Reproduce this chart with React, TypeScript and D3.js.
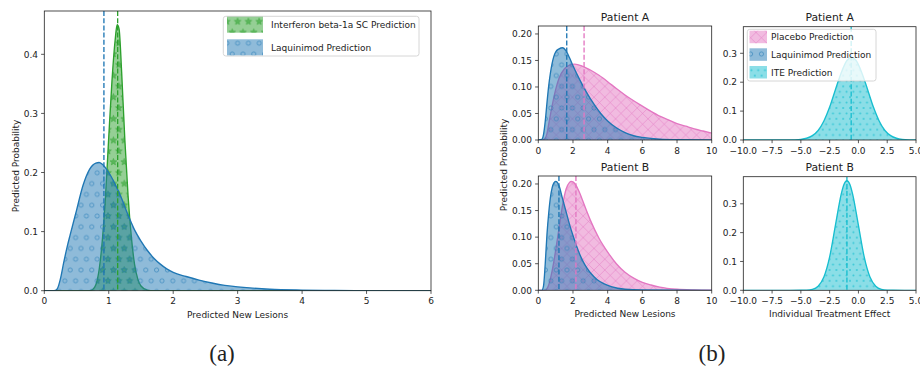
import React from 'react';
import * as d3 from 'd3';

// ---------- (a) data ----------
const aIfnX = [0, 0.7, 0.75, 0.8, 0.85, 0.9, 0.95, 1.0, 1.05, 1.1, 1.13, 1.16, 1.2, 1.25, 1.3, 1.35, 1.4, 1.45, 1.5, 1.6, 1.7, 6];
const aIfnY = [0, 0, 0.002, 0.01, 0.035, 0.085, 0.16, 0.26, 0.355, 0.425, 0.45, 0.443, 0.37, 0.255, 0.16, 0.092, 0.045, 0.02, 0.008, 0.001, 0, 0];
const aLaqX = [0, 0.15, 0.2, 0.25, 0.3, 0.35, 0.4, 0.45, 0.5, 0.6, 0.7, 0.8, 0.85, 0.9, 1.0, 1.1, 1.2, 1.3, 1.4, 1.5, 1.6, 1.7, 1.8, 1.9, 2.0, 2.2, 2.4, 2.6, 2.8, 3.0, 3.5, 4.0, 4.5, 5.0, 6.0];
const aLaqY = [0, 0, 0.003, 0.02, 0.047, 0.072, 0.094, 0.115, 0.136, 0.178, 0.205, 0.216, 0.217, 0.214, 0.2, 0.18, 0.156, 0.128, 0.103, 0.084, 0.068, 0.055, 0.045, 0.037, 0.031, 0.024, 0.018, 0.013, 0.009, 0.0065, 0.0025, 0.001, 0.0003, 0, 0];
const aMeans = { laq: 0.925, ifn: 1.138 };
const aXTicks = [0, 1, 2, 3, 4, 5, 6];
const aYTicks = [0, 0.1, 0.2, 0.3, 0.4];

// ---------- (b) data ----------
const paLaqX = [0, 0.2, 0.3, 0.4, 0.5, 0.6, 0.8, 1.0, 1.2, 1.4, 1.6, 1.8, 2.0, 2.4, 2.8, 3.2, 3.6, 4.0, 4.5, 5.0, 5.5, 6.0, 7.0, 8.0, 10.0];
const paLaqY = [0, 0.001, 0.01, 0.035, 0.07, 0.102, 0.145, 0.166, 0.172, 0.174, 0.168, 0.155, 0.14, 0.113, 0.089, 0.068, 0.05, 0.036, 0.023, 0.014, 0.008, 0.005, 0.0015, 0.0005, 0];
const paPlaX = [0, 0.3, 0.4, 0.5, 0.6, 0.8, 1.0, 1.2, 1.5, 1.8, 2.1, 2.5, 3.0, 3.5, 4.0, 4.5, 5.0, 5.5, 6.0, 6.5, 7.0, 7.5, 8.0, 8.5, 9.0, 9.5, 10];
const paPlaY = [0, 0, 0.003, 0.012, 0.03, 0.065, 0.095, 0.117, 0.134, 0.141, 0.143, 0.14, 0.132, 0.122, 0.11, 0.097, 0.085, 0.074, 0.064, 0.054, 0.045, 0.038, 0.031, 0.026, 0.021, 0.017, 0.013];
const paMeans = { laq: 1.64, pla: 2.64 };

const pbLaqX = [0, 0.2, 0.3, 0.4, 0.5, 0.6, 0.7, 0.8, 0.9, 1.0, 1.1, 1.2, 1.4, 1.6, 1.8, 2.0, 2.2, 2.4, 2.6, 2.8, 3.0, 3.4, 3.8, 4.2, 5.0, 6.0, 10];
const pbLaqY = [0, 0, 0.008, 0.05, 0.105, 0.145, 0.175, 0.193, 0.202, 0.205, 0.203, 0.196, 0.172, 0.148, 0.124, 0.103, 0.084, 0.067, 0.053, 0.042, 0.033, 0.02, 0.012, 0.007, 0.002, 0.0005, 0];
const pbPlaX = [0, 0.4, 0.5, 0.6, 0.7, 0.8, 0.9, 1.0, 1.2, 1.4, 1.6, 1.8, 1.9, 2.0, 2.2, 2.4, 2.6, 2.8, 3.0, 3.5, 4.0, 4.5, 5.0, 5.5, 6.0, 6.5, 7.0, 8.0, 9.0, 10.0];
const pbPlaY = [0, 0, 0.003, 0.01, 0.022, 0.037, 0.055, 0.075, 0.118, 0.16, 0.19, 0.203, 0.205, 0.204, 0.196, 0.182, 0.165, 0.148, 0.132, 0.098, 0.072, 0.05, 0.034, 0.023, 0.015, 0.01, 0.006, 0.002, 0.0007, 0.0002];
const pbMeans = { laq: 1.19, pla: 2.17 };

const itaX = [-10, -7, -6, -5.5, -5, -4.5, -4, -3.5, -3, -2.5, -2, -1.5, -1, -0.6, -0.2, 0.3, 0.8, 1.3, 1.8, 2.3, 2.8, 3.3, 3.8, 4.5, 5];
const itaY = [0, 0, 0.0001, 0.0005, 0.002, 0.006, 0.015, 0.033, 0.066, 0.114, 0.174, 0.232, 0.275, 0.286, 0.275, 0.232, 0.174, 0.114, 0.066, 0.033, 0.015, 0.006, 0.002, 0.0004, 0];
const itaMean = -0.63;
const itbX = [-10, -6, -5, -4.5, -4, -3.5, -3, -2.5, -2, -1.5, -1.25, -1, -0.75, -0.5, 0, 0.5, 1, 1.5, 2, 2.5, 3, 4, 5];
const itbY = [0, 0, 0.0002, 0.0006, 0.003, 0.014, 0.046, 0.116, 0.225, 0.333, 0.368, 0.38, 0.368, 0.333, 0.225, 0.116, 0.046, 0.014, 0.003, 0.0006, 0.0002, 0, 0];
const itbMean = -1.0;

const lesionTicks = [0, 2, 4, 6, 8, 10];
const probTicks = [0, 0.05, 0.1, 0.15, 0.2];
const iteXTicks = [-10, -7.5, -5, -2.5, 0, 2.5, 5];
const iteYTicks = [0, 0.1, 0.2, 0.3];

const BLUE = '#1f77b4';
const GREEN = '#2ca02c';
const PINK = '#e377c2';
const CYAN = '#17becf';
const FONT = 'DejaVu Sans, sans-serif';

type Series = { xs: number[]; ys: number[]; color: string; pat: string };
type Box = { x0: number; x1: number; y0: number; y1: number };

const zip = (xs: number[], ys: number[]) => xs.map((x, i) => [x, ys[i]] as [number, number]);

function starPoints(cx: number, cy: number, R: number, r: number) {
  const pts: string[] = [];
  for (let i = 0; i < 10; i++) {
    const a = -Math.PI / 2 + (i * Math.PI) / 5;
    const rad = i % 2 === 0 ? R : r;
    pts.push(`${(cx + rad * Math.cos(a)).toFixed(2)},${(cy + rad * Math.sin(a)).toFixed(2)}`);
  }
  return pts.join(' ');
}

function Patterns() {
  const S = 10.8;
  const stag = [[0, 0], [S, 0], [0, 2 * S], [S, 2 * S], [S / 2, S]];
  const D = 5.4;
  const DW = 6.8;
  const dots = [[0, 0], [DW, 0], [0, 2 * D], [DW, 2 * D], [DW / 2, D]];
  return (
    <defs>
      <pattern id="hat-o" patternUnits="userSpaceOnUse" width={S} height={2 * S}>
        {stag.map(([x, y], i) => (
          <circle key={i} cx={x} cy={y} r={2.1} fill="none" stroke={BLUE} strokeOpacity={0.6} strokeWidth={0.9} />
        ))}
      </pattern>
      <pattern id="hat-star" patternUnits="userSpaceOnUse" width={S} height={2 * S}>
        {stag.map(([x, y], i) => (
          <polygon key={i} points={starPoints(x, y, 3.6, 1.6)} fill={GREEN} fillOpacity={0.55} stroke={GREEN} strokeOpacity={0.6} strokeWidth={0.7} />
        ))}
      </pattern>
      <pattern id="hat-x" patternUnits="userSpaceOnUse" width={S} height={S}>
        <path d={`M0,0L${S},${S}M0,${S}L${S},0M${-S / 2},${S / 2}L${S / 2},${-S / 2}M${S / 2},${S * 1.5}L${S * 1.5},${S / 2}`} stroke={PINK} strokeOpacity={0.55} strokeWidth={0.9} />
      </pattern>
      <pattern id="hat-dot" patternUnits="userSpaceOnUse" width={DW} height={2 * D}>
        {dots.map(([x, y], i) => (
          <circle key={i} cx={x} cy={y} r={1.0} fill={CYAN} fillOpacity={0.7} />
        ))}
      </pattern>
    </defs>
  );
}

type PanelProps = {
  id: string;
  box: Box;
  xDomain: [number, number];
  yDomain: [number, number];
  xTicks: number[];
  yTicks: number[];
  xFmt: (v: number) => string;
  yFmt: (v: number) => string;
  series: Series[];
  vlines: { x: number; color: string }[];
  title?: string;
  titleY?: number;
  xlabel?: string;
};

function Panel(p: PanelProps) {
  const { box } = p;
  const x = d3.scaleLinear().domain(p.xDomain).range([box.x0, box.x1]);
  const y = d3.scaleLinear().domain(p.yDomain).range([box.y1, box.y0]);
  const area = d3
    .area<[number, number]>()
    .x((d) => x(d[0]))
    .y0(y(0))
    .y1((d) => y(d[1]))
    .curve(d3.curveMonotoneX);
  const line = d3
    .line<[number, number]>()
    .x((d) => x(d[0]))
    .y((d) => y(d[1]))
    .curve(d3.curveMonotoneX);
  const clip = `clip-${p.id}`;
  const cx = (box.x0 + box.x1) / 2;
  return (
    <g>
      <clipPath id={clip}>
        <rect x={box.x0} y={box.y0} width={box.x1 - box.x0} height={box.y1 - box.y0} />
      </clipPath>
      <g clipPath={`url(#${clip})`}>
        {p.series.map((s, i) => {
          const data = zip(s.xs, s.ys);
          const a = area(data) || '';
          return (
            <g key={i}>
              <path d={a} fill={s.color} fillOpacity={0.5} />
              <path d={a} fill={`url(#${s.pat})`} />
              <path d={line(data) || ''} fill="none" stroke={s.color} strokeWidth={1.35} />
            </g>
          );
        })}
        {p.vlines.map((v, i) => (
          <line key={i} x1={x(v.x)} x2={x(v.x)} y1={box.y0} y2={box.y1} stroke={v.color} strokeWidth={1.35} strokeDasharray="5,2.2" />
        ))}
      </g>
      <rect x={box.x0} y={box.y0} width={box.x1 - box.x0} height={box.y1 - box.y0} fill="none" stroke="#222" strokeWidth={0.8} />
      {p.xTicks.map((t, i) => (
        <g key={'x' + i}>
          <line x1={x(t)} x2={x(t)} y1={box.y1} y2={box.y1 + 3.2} stroke="#222" strokeWidth={0.75} />
          <text x={x(t)} y={box.y1 + 13.6} fontSize={9} fontFamily={FONT} textAnchor="middle" fill="#222">
            {p.xFmt(t)}
          </text>
        </g>
      ))}
      {p.yTicks.map((t, i) => (
        <g key={'y' + i}>
          <line x1={box.x0 - 3.2} x2={box.x0} y1={y(t)} y2={y(t)} stroke="#222" strokeWidth={0.75} />
          <text x={box.x0 - 6.3} y={y(t) + 3.3} fontSize={9} fontFamily={FONT} textAnchor="end" fill="#222">
            {p.yFmt(t)}
          </text>
        </g>
      ))}
      {p.title && (
        <text x={cx} y={p.titleY} fontSize={10.8} fontFamily={FONT} textAnchor="middle" fill="#222">
          {p.title}
        </text>
      )}
      {p.xlabel && (
        <text x={cx} y={box.y1 + 27} fontSize={9} fontFamily={FONT} textAnchor="middle" fill="#222">
          {p.xlabel}
        </text>
      )}
    </g>
  );
}

type LegendItem = { label: string; color: string; pat: string };
function Legend({ frame, items, patchX, patchW, patchYs, patchH, textX }: {
  frame: Box;
  items: LegendItem[];
  patchX: number;
  patchW: number;
  patchYs: number[];
  patchH: number;
  textX: number;
}) {
  return (
    <g>
      <rect x={frame.x0} y={frame.y0} width={frame.x1 - frame.x0} height={frame.y1 - frame.y0} rx={2.5} fill="#fff" fillOpacity={0.8} stroke="#ccc" strokeWidth={0.8} />
      {items.map((it, i) => (
        <g key={i}>
          <rect x={patchX} y={patchYs[i]} width={patchW} height={patchH} fill={it.color} fillOpacity={0.5} />
          <rect x={patchX} y={patchYs[i]} width={patchW} height={patchH} fill={`url(#${it.pat})`} />
          <text x={textX} y={patchYs[i] + patchH / 2 + 3.3} fontSize={9} fontFamily={FONT} fill="#222">
            {it.label}
          </text>
        </g>
      ))}
    </g>
  );
}

export default function App() {
  const f1 = d3.format('.1f');
  const f2 = d3.format('.2f');
  const fi = d3.format('d');
  const boxA: Box = { x0: 44.3, x1: 431, y0: 11, y1: 290.7 };
  const boxPA: Box = { x0: 538.3, x1: 711.7, y0: 26, y1: 140 };
  const boxIA: Box = { x0: 743.3, x1: 916, y0: 26.7, y1: 140 };
  const boxPB: Box = { x0: 538.3, x1: 711.7, y0: 176, y1: 290.3 };
  const boxIB: Box = { x0: 743.3, x1: 916, y0: 176.7, y1: 290.3 };
  return (
    <div style={{ position: 'absolute', left: 0, top: 0 }}>
      <svg width={920} height={366} style={{ display: 'block', background: '#fff' }}>
        <Patterns />
        <Panel
          id="a"
          box={boxA}
          xDomain={[0, 6]}
          yDomain={[0, 0.4733]}
          xTicks={aXTicks}
          yTicks={aYTicks}
          xFmt={fi}
          yFmt={f1}
          series={[
            { xs: aIfnX, ys: aIfnY, color: GREEN, pat: 'hat-star' },
            { xs: aLaqX, ys: aLaqY, color: BLUE, pat: 'hat-o' },
          ]}
          vlines={[
            { x: aMeans.laq, color: BLUE },
            { x: aMeans.ifn, color: GREEN },
          ]}
          xlabel="Predicted New Lesions"
        />
        <text transform="translate(18.7,166) rotate(-90)" fontSize={9} fontFamily={FONT} textAnchor="middle" fill="#222">
          Predicted Probability
        </text>
        <Legend
          frame={{ x0: 223.3, x1: 419, y0: 16.3, y1: 56 }}
          items={[
            { label: 'Interferon beta-1a SC Prediction', color: GREEN, pat: 'hat-star' },
            { label: 'Laquinimod Prediction', color: BLUE, pat: 'hat-o' },
          ]}
          patchX={227}
          patchW={36}
          patchYs={[16.7, 39.3]}
          patchH={16}
          textX={271}
        />

        <Panel
          id="pa"
          box={boxPA}
          xDomain={[0, 10]}
          yDomain={[0, 0.215]}
          xTicks={lesionTicks}
          yTicks={probTicks}
          xFmt={fi}
          yFmt={f2}
          series={[
            { xs: paPlaX, ys: paPlaY, color: PINK, pat: 'hat-x' },
            { xs: paLaqX, ys: paLaqY, color: BLUE, pat: 'hat-o' },
          ]}
          vlines={[
            { x: paMeans.laq, color: BLUE },
            { x: paMeans.pla, color: PINK },
          ]}
          title="Patient A"
          titleY={20.7}
        />
        <Panel
          id="ia"
          box={boxIA}
          xDomain={[-10, 5]}
          yDomain={[0, 0.392]}
          xTicks={iteXTicks}
          yTicks={iteYTicks}
          xFmt={f1}
          yFmt={f1}
          series={[{ xs: itaX, ys: itaY, color: CYAN, pat: 'hat-dot' }]}
          vlines={[{ x: itaMean, color: CYAN }]}
          title="Patient A"
          titleY={20.7}
        />
        <Legend
          frame={{ x0: 747.3, x1: 876, y0: 29.3, y1: 81 }}
          items={[
            { label: 'Placebo Prediction', color: PINK, pat: 'hat-x' },
            { label: 'Laquinimod Prediction', color: BLUE, pat: 'hat-o' },
            { label: 'ITE Prediction', color: CYAN, pat: 'hat-dot' },
          ]}
          patchX={749.5}
          patchW={17.5}
          patchYs={[30.7, 48.3, 66]}
          patchH={12.5}
          textX={771}
        />
        <Panel
          id="pb"
          box={boxPB}
          xDomain={[0, 10]}
          yDomain={[0, 0.215]}
          xTicks={lesionTicks}
          yTicks={probTicks}
          xFmt={fi}
          yFmt={f2}
          series={[
            { xs: pbPlaX, ys: pbPlaY, color: PINK, pat: 'hat-x' },
            { xs: pbLaqX, ys: pbLaqY, color: BLUE, pat: 'hat-o' },
          ]}
          vlines={[
            { x: pbMeans.laq, color: BLUE },
            { x: pbMeans.pla, color: PINK },
          ]}
          title="Patient B"
          titleY={170.7}
          xlabel="Predicted New Lesions"
        />
        <Panel
          id="ib"
          box={boxIB}
          xDomain={[-10, 5]}
          yDomain={[0, 0.394]}
          xTicks={iteXTicks}
          yTicks={iteYTicks}
          xFmt={f1}
          yFmt={f1}
          series={[{ xs: itbX, ys: itbY, color: CYAN, pat: 'hat-dot' }]}
          vlines={[{ x: itbMean, color: CYAN }]}
          title="Patient B"
          titleY={170.7}
          xlabel="Individual Treatment Effect"
        />
        <text transform="translate(506.5,165) rotate(-90)" fontSize={9} fontFamily={FONT} textAnchor="middle" fill="#222">
          Predicted Probability
        </text>

        <text x={222} y={361} fontSize={23} fontFamily="Liberation Serif, serif" textAnchor="middle" fill="#222">
          (a)
        </text>
        <text x={712} y={361} fontSize={23} fontFamily="Liberation Serif, serif" textAnchor="middle" fill="#222">
          (b)
        </text>
      </svg>
    </div>
  );
}
